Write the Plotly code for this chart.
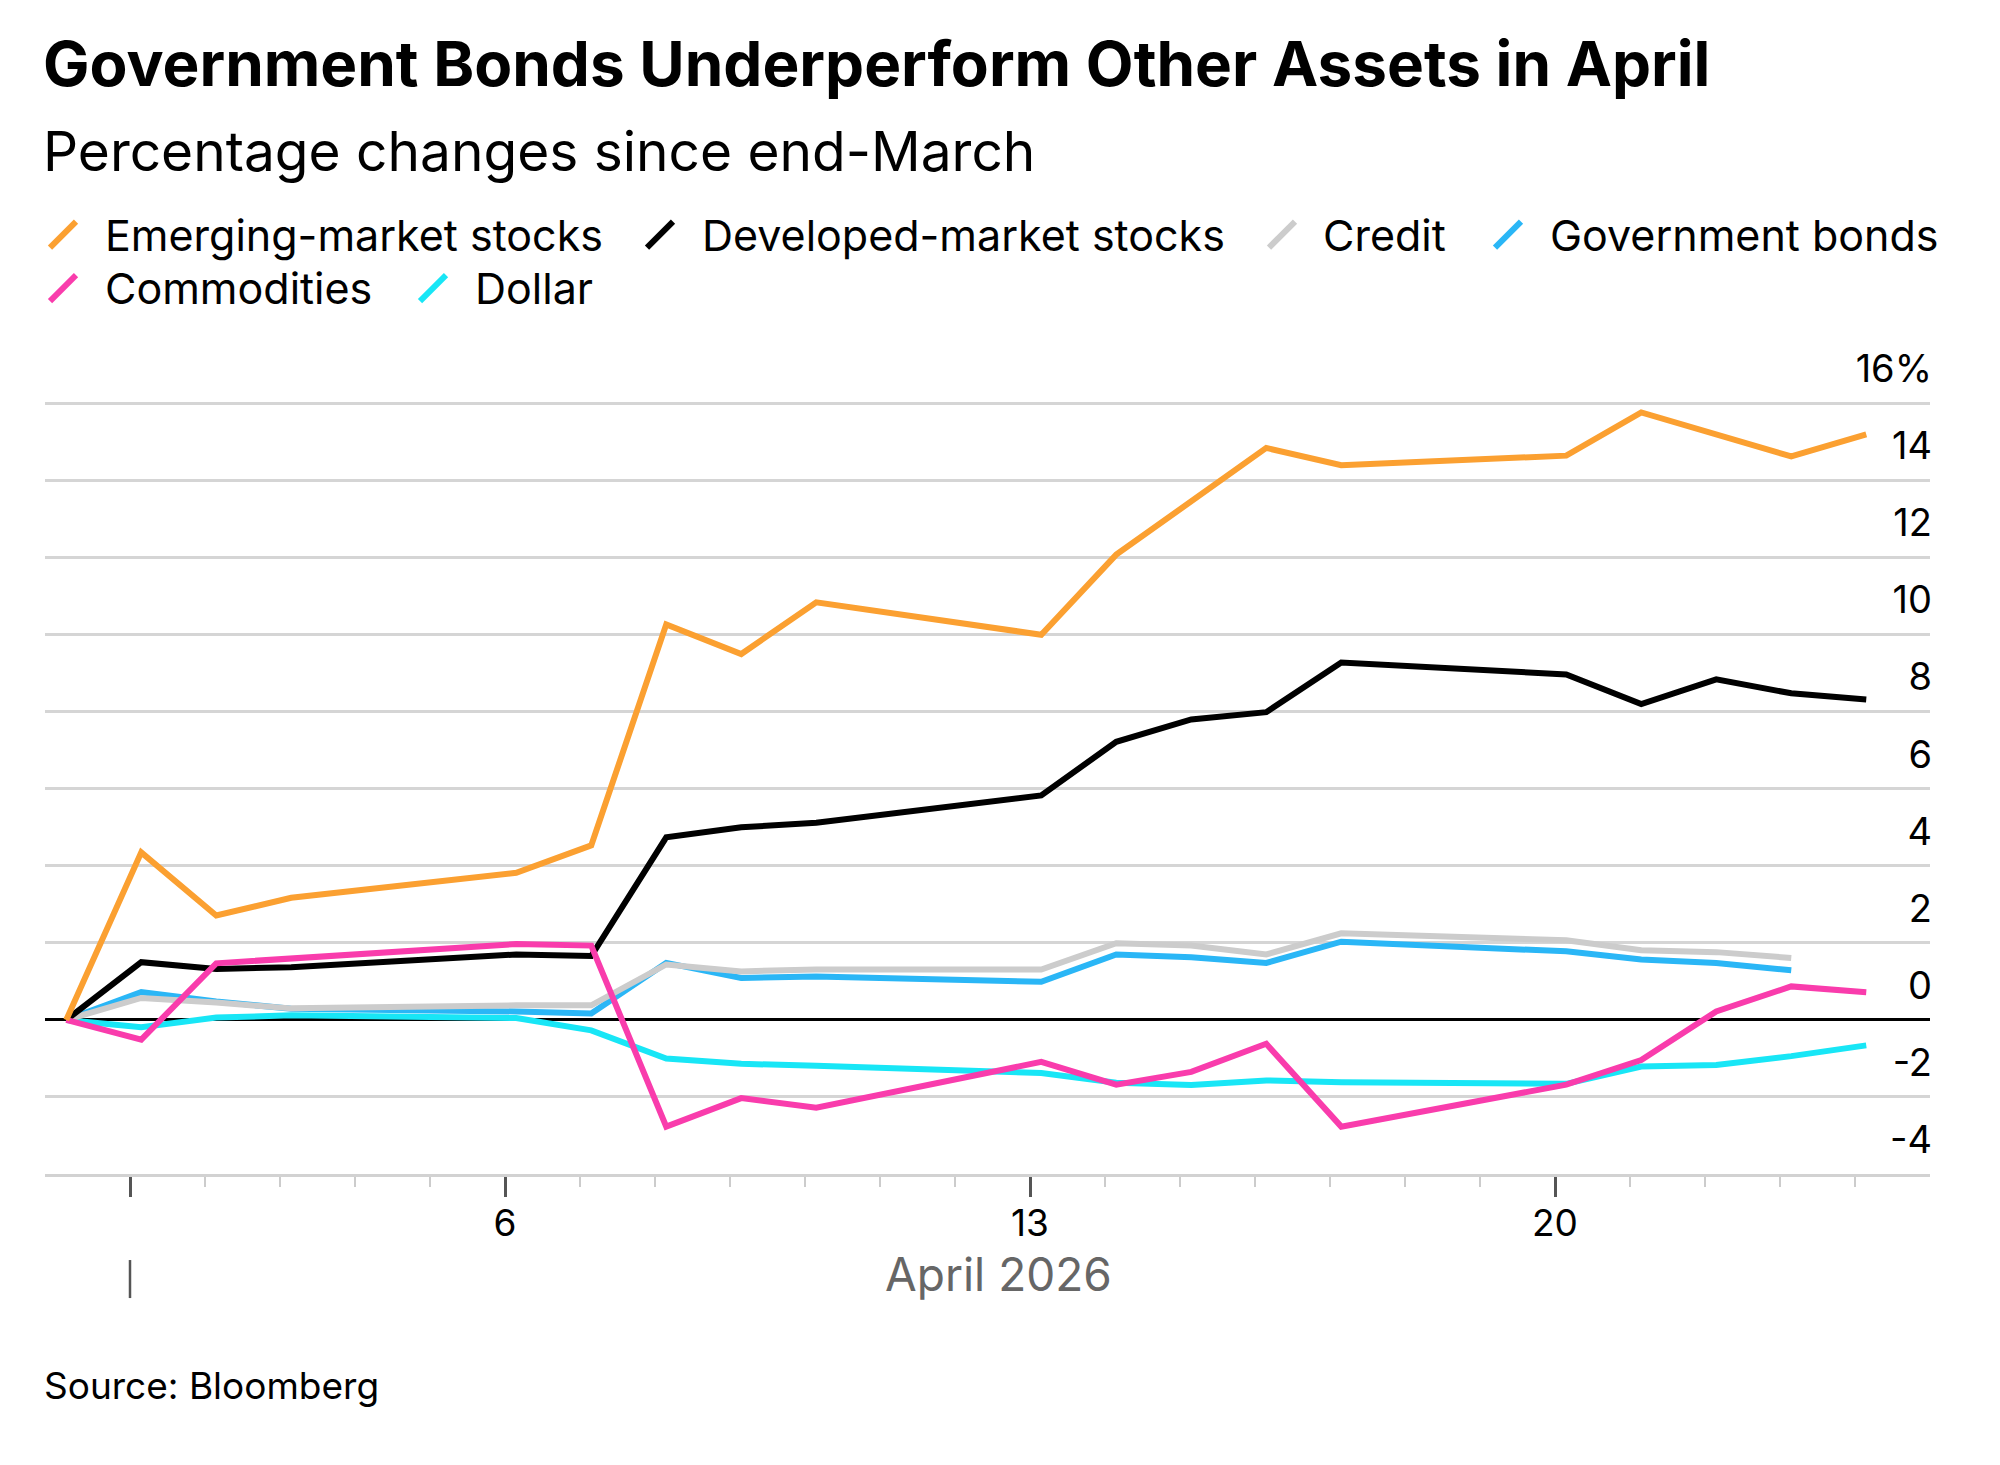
import plotly.graph_objects as go
import pandas as pd

# ---------------- data ----------------
dates = ["2026-03-31", "2026-04-01", "2026-04-02", "2026-04-03", "2026-04-06",
         "2026-04-07", "2026-04-08", "2026-04-09", "2026-04-10", "2026-04-13",
         "2026-04-14", "2026-04-15", "2026-04-16", "2026-04-17", "2026-04-20",
         "2026-04-21", "2026-04-22", "2026-04-23", "2026-04-24"]

emerging = [0, 4.35, 2.71, 3.17, 3.82, 4.53, 10.27, 9.50, 10.84, 10.00,
            12.08, 13.46, 14.85, 14.40, 14.65, 15.77, 15.19, 14.63, 15.20]
developed = [0, 1.50, 1.32, 1.37, 1.70, 1.66, 4.74, 5.00, 5.12, 5.83,
             7.22, 7.80, 7.99, 9.28, 8.97, 8.20, 8.84, 8.48, 8.32]
credit = [0, 0.57, 0.45, 0.30, 0.38, 0.38, 1.44, 1.26, 1.31, 1.31,
          1.99, 1.93, 1.70, 2.25, 2.07, 1.81, 1.76, 1.61, None]
govt_bonds = [0, 0.72, 0.48, 0.29, 0.22, 0.17, 1.48, 1.09, 1.13, 0.99,
              1.70, 1.63, 1.48, 2.03, 1.78, 1.57, 1.48, 1.29, None]
commodities = [0, -0.51, 1.47, 1.60, 1.97, 1.93, -2.77, -2.03, -2.28, -1.09,
               -1.68, -1.35, -0.62, -2.77, -1.68, -1.04, 0.22, 0.87, 0.72]
dollar = [0, -0.19, 0.06, 0.12, 0.05, -0.27, -1.00, -1.14, -1.19, -1.38,
          -1.63, -1.69, -1.57, -1.62, -1.66, -1.21, -1.17, -0.94, -0.66]

series_names = ["Emerging-market stocks", "Developed-market stocks", "Credit",
                "Government bonds", "Commodities", "Dollar"]
series_values = [emerging, developed, credit, govt_bonds, commodities, dollar]
series_colors = ["#FBA031", "#000000", "#CCCCCC", "#2AB6F6", "#F93CAC", "#18E6F6"]
draw_order = ["Dollar", "Government bonds", "Credit", "Developed-market stocks",
              "Commodities", "Emerging-market stocks"]

y_tick_vals = [-4, -2, 0, 2, 4, 6, 8, 10, 12, 14, 16]
y_tick_text = ["-4", "-2", "0", "2", "4", "6", "8", "10", "12", "14", "16%"]
x_major_days = ["2026-04-01", "2026-04-06", "2026-04-13", "2026-04-20"]
x_major_text = ["", "6", "13", "20"]
x_minor_days = ["2026-04-02", "2026-04-03", "2026-04-04", "2026-04-05",
                "2026-04-07", "2026-04-08", "2026-04-09", "2026-04-10",
                "2026-04-11", "2026-04-12", "2026-04-14", "2026-04-15",
                "2026-04-16", "2026-04-17", "2026-04-18", "2026-04-19",
                "2026-04-21", "2026-04-22", "2026-04-23", "2026-04-24"]

title_text = "Government Bonds Underperform Other Assets in April"
subtitle_text = "Percentage changes since end-March"
source_text = "Source: Bloomberg"
month_text = "April 2026"

# ---------------- geometry / style ----------------
# target-picture pixel frame; the page body adds an 8px margin around the figure
OFF = 8
W, H = 2000 - 2 * OFF, 1465 - 2 * OFF
PLOT_LEFT, PLOT_RIGHT, PLOT_TOP, PLOT_BOTTOM = 45, 1930, 342.4, 1174
L = PLOT_LEFT - OFF
R = W - (PLOT_RIGHT - OFF)
T = PLOT_TOP - OFF
B = H - (PLOT_BOTTOM - OFF)
PW, PH = W - L - R, H - T - B
FONT = "Inter"


def px_x(px):
    return (px - PLOT_LEFT) / PW


def px_y(py):
    return (PLOT_BOTTOM - py) / PH


fmt = "%Y-%m-%d %H:%M:%S"
tick_offset = pd.Timedelta(hours=3.6)
x_left = (pd.Timestamp(dates[0]) - pd.Timedelta(hours=6.8)).strftime(fmt)
x_right = (pd.Timestamp(dates[-1]) + pd.Timedelta(hours=20.4)).strftime(fmt)
major_vals = [(pd.Timestamp(d) - tick_offset).strftime(fmt) for d in x_major_days]
minor_vals = [(pd.Timestamp(d) - tick_offset).strftime(fmt) for d in x_minor_days]
month_start = pd.Timestamp(x_major_days[0]) - tick_offset
month_center = (month_start + (pd.Timestamp(dates[-1]) - month_start) / 2).strftime(fmt)

fig = go.Figure()
lookup = {n: (v, c) for n, v, c in zip(series_names, series_values, series_colors)}
for name in draw_order:
    vals, col = lookup[name]
    fig.add_trace(go.Scatter(
        x=dates, y=vals, name=name, mode="lines",
        line=dict(color=col, width=6),
        showlegend=False, hoverinfo="skip", connectgaps=False,
    ))

annotations = []
shapes = []

annotations.append(dict(text=title_text, xref="paper", yref="paper",
                        x=px_x(41), y=px_y(64.5), xanchor="left", yanchor="middle",
                        showarrow=False,
                        font=dict(family=FONT, size=62, color="#000", weight=700)))
annotations.append(dict(text=subtitle_text, xref="paper", yref="paper",
                        x=px_x(41), y=px_y(151), xanchor="left", yanchor="middle",
                        showarrow=False,
                        font=dict(family=FONT, size=55, color="#000")))

# legend (symbol left x, text left x, row centre y)
legend_pos = {
    "Emerging-market stocks": (48, 103, 235),
    "Developed-market stocks": (645, 700, 235),
    "Credit": (1267, 1321, 235),
    "Government bonds": (1493, 1548, 235),
    "Commodities": (48, 103, 288.5),
    "Dollar": (418, 473, 288.5),
}
for name, col in zip(series_names, series_colors):
    sx, tx, cy = legend_pos[name]
    shapes.append(dict(type="line", xref="paper", yref="paper",
                       x0=px_x(sx + 2), y0=px_y(cy + 13),
                       x1=px_x(sx + 28), y1=px_y(cy - 13),
                       line=dict(color=col, width=6)))
    annotations.append(dict(text=name, xref="paper", yref="paper",
                            x=px_x(tx), y=px_y(cy), xanchor="left", yanchor="middle",
                            showarrow=False,
                            font=dict(family=FONT, size=43, color="#000")))

annotations.append(dict(text=source_text, xref="paper", yref="paper",
                        x=px_x(42), y=px_y(1385), xanchor="left", yanchor="middle",
                        showarrow=False,
                        font=dict(family=FONT, size=37, color="#000")))
annotations.append(dict(text=month_text, xref="x", yref="paper",
                        x=month_center, y=px_y(1274), xanchor="center", yanchor="middle",
                        showarrow=False,
                        font=dict(family=FONT, size=46, color="#666666")))
shapes.append(dict(type="line", xref="x", yref="paper",
                   x0=major_vals[0], x1=major_vals[0],
                   y0=px_y(1260), y1=px_y(1298),
                   line=dict(color="#555555", width=2.5)))

fig.update_layout(
    width=W, height=H, autosize=False,
    margin=dict(l=L, r=R, t=T, b=B, pad=0),
    paper_bgcolor="white", plot_bgcolor="white",
    showlegend=False,
    annotations=annotations, shapes=shapes,
    xaxis=dict(
        type="date", range=[x_left, x_right],
        tickmode="array", tickvals=major_vals, ticktext=x_major_text,
        ticks="outside", ticklen=20, tickwidth=2.5, tickcolor="#555555",
        tickfont=dict(family=FONT, size=37, color="#000"),
        ticklabelstandoff=-5,
        showgrid=False, zeroline=False,
        showline=True, linecolor="#D2D2D2", linewidth=3,
        minor=dict(tickmode="array", tickvals=minor_vals, ticks="outside",
                   ticklen=10, tickwidth=2, tickcolor="#CCCCCC", showgrid=False),
    ),
    yaxis=dict(
        side="right", range=[-4, 17.6],
        tickmode="array", tickvals=y_tick_vals, ticktext=y_tick_text,
        ticklabelposition="inside top", ticks="",
        ticklabelshift=-8, ticklabelstandoff=-5,
        tickfont=dict(family=FONT, size=38, color="#000"),
        showgrid=True, gridcolor="#D5D5D5", gridwidth=2.5,
        zeroline=True, zerolinecolor="#000000", zerolinewidth=2.5,
        showline=False,
    ),
)

fig.write_html("out.html")
